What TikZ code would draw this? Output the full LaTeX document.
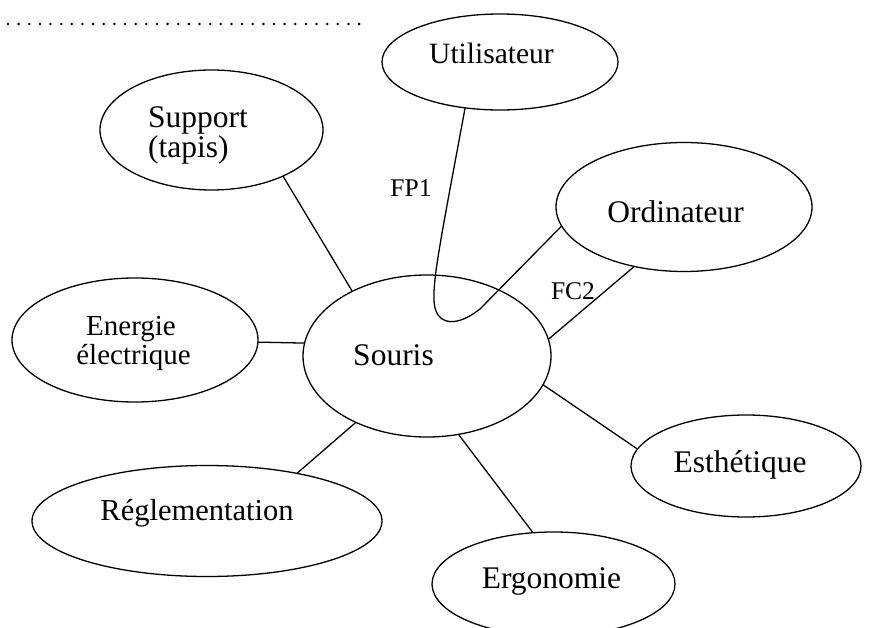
\documentclass[tikz,border=0pt]{standalone}
\usepackage{fontspec}
\setmainfont{Liberation Serif}
\usetikzlibrary{shapes.geometric,calc}
\begin{document}
\begin{tikzpicture}[x=1pt,y=-1pt,
  oval/.style={draw=black,ellipse,line width=1.3pt,inner sep=0pt},
  lbl/.style={inner sep=0pt,anchor=base,font=\fontsize{31.5}{36}\selectfont},
  lblm/.style={inner sep=0pt,anchor=base,font=\fontsize{29.5}{34}\selectfont},
  small/.style={inner sep=0pt,anchor=base,font=\fontsize{25.5}{30}\selectfont},
  link/.style={line width=1.3pt,line cap=round}]
\clip (0,0) rectangle (888,628);

% dotted line at top
\foreach \i in {0,...,33} \fill (8+10.64*\i,24) circle[radius=1.4pt];

% ellipses
\node[oval,minimum width=236pt,minimum height=96pt]  (util) at (500,62) {};
\node[oval,minimum width=223pt,minimum height=120pt] (supp) at (211.5,130) {};
\node[oval,minimum width=256pt,minimum height=129pt] (ord)  at (684,207) {};
\node[oval,minimum width=246pt,minimum height=124pt] (ener) at (135,340) {};
\node[oval,minimum width=248pt,minimum height=162pt] (souris) at (427,356) {};
\node[oval,minimum width=230pt,minimum height=102pt] (esth) at (746,466) {};
\node[oval,minimum width=350pt,minimum height=111pt] (regl) at (207,521) {};
\node[oval,minimum width=243pt,minimum height=104pt] (ergo) at (553.5,584) {};

% texts
\node[lblm] (tutil) at (491.5,64) {Utilisateur};
\node[lbl,anchor=base west] (tsupp1) at (148,128) {Support};
\node[lbl,anchor=base west] (tsupp2) at (148,158) {(tapis)};
\node[lbl] (tord) at (675.5,223) {Ordinateur};
\node[lblm,font=\fontsize{29}{34}\selectfont] (tener1) at (131,335) {Energie};
\node[lblm,font=\fontsize{29}{34}\selectfont] (tener2) at (133.5,364) {électrique};
\node[lbl] (tsouris) at (393.5,365) {Souris};
\node[lbl] (testh) at (740,472) {Esthétique};
\node[lbl,font=\fontsize{30.5}{36}\selectfont] (tregl) at (197,520) {Réglementation};
\node[lbl] (tergo) at (551.5,588) {Ergonomie};
\node[small] (fp1) at (411,197) {FP1};
\node[small] (fc2) at (573,299) {FC2};

% connectors
\draw[link] (supp.-33.9) -- (souris.139.4);
\draw[link] (ener.-1.9) -- (souris.174.5);
\draw[link] (regl.28.3) -- (souris.223.7);
\draw[link] (souris.-68.5) -- (ergo.112.9);
\draw[link] (souris.-14.2) -- (esth.171.6);
\draw[link] (souris.8.3) -- (ord.-130.9);
\draw[link] (util.-127.5) .. controls (436,265) and (428,300) ..
  ($(souris)+(11,-41)$) .. controls ($(souris)+(19,-30)$) and ($(souris)+(35,-33)$) ..
  ($(souris)+(53,-47)$) -- (ord.189.3);
\end{tikzpicture}
\end{document}
